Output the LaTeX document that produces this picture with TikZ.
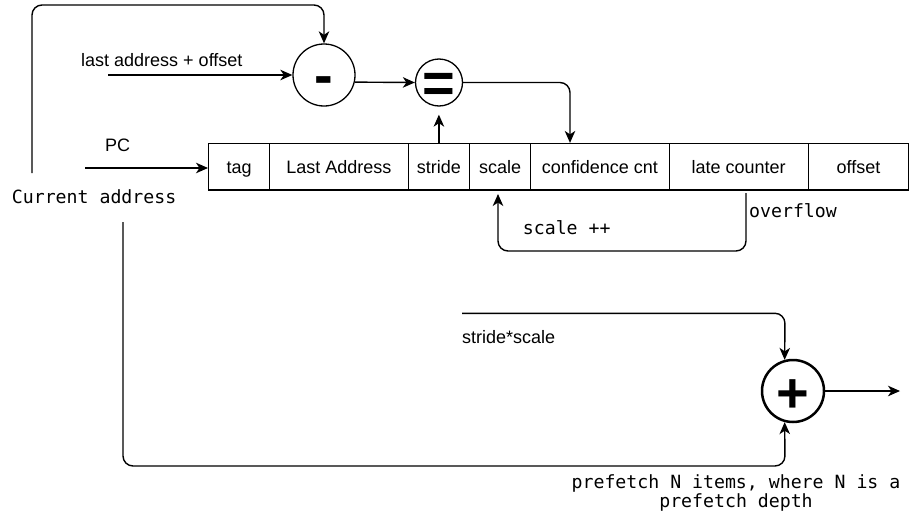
\documentclass[tikz,border=0pt]{standalone}
\usepackage{fontspec}
\setmainfont{Liberation Sans}
\newfontfamily\monofnt{DejaVu Sans Mono}
\usetikzlibrary{arrows.meta}
\begin{document}
\begin{tikzpicture}[x=1pt,y=-1pt,
  lbl/.style={font=\fontsize{18pt}{21.6pt}\selectfont, inner sep=0pt, anchor=base west},
  mono/.style={font=\monofnt\fontsize{18.2pt}{21.6pt}\selectfont, inner sep=0pt, anchor=base west},
  cell/.style={draw, line width=1.3pt, minimum height=46.5pt, inner sep=0pt, anchor=west,
    font=\fontsize{18pt}{21.6pt}\selectfont, text height=13pt, text depth=0pt},
  op/.style={circle, draw, line width=1.3pt, inner sep=0pt,
    font=\bfseries\fontsize{56pt}{56pt}\selectfont, text height=0pt, text depth=0pt},
  conn/.style={line width=1.4pt, -{Stealth[length=12pt,width=10.5pt,inset=3.5pt]}},
]
\useasboundingbox (0,0) rectangle (909,522);

% table cells
\node[cell, minimum width=61pt]    (tag)    at (208,166.8)   {tag};
\node[cell, minimum width=138.5pt] (la)     at (269,166.8)   {Last Address};
\node[cell, minimum width=61.5pt]  (stride) at (407.5,166.8) {stride};
\node[cell, minimum width=61pt]    (scale)  at (469,166.8)   {scale};
\node[cell, minimum width=138.5pt] (conf)   at (530,166.8)   {confidence cnt};
\node[cell, minimum width=139pt]   (late)   at (668.5,166.8) {late counter\hspace{14pt}};
\node[cell, minimum width=100.5pt] (off)    at (807.5,166.8) {offset};

% operators
\node[op, minimum size=62pt] (minus) at (324,75) {\raisebox{\dimexpr-0.255em-5pt\relax}{-}};
\node[op, minimum size=47pt] (eq) at (439,82.5) {\raisebox{\dimexpr-0.36em\relax}{=}};
\node[op, minimum size=62pt, line width=2.5pt] (plus) at (793,391) {\raisebox{\dimexpr-0.36em-1.5pt\relax}{+}};

% labels
\node[mono] (cur) at (11.7,203.3) {Current address};
\node[lbl] (lastlbl) at (81,66) {last address + offset};
\node[lbl] (pclbl) at (105,151) {PC};
\node[mono] (ovflbl) at (749,217.5) {overflow};
\node[mono] (scpp) at (522.7,234) {scale ++};
\node[lbl] (sslbl) at (462,343.5) {stride*scale};
\node[mono, anchor=base, align=center, font=\monofnt\fontsize{18.2pt}{15.3pt}\selectfont] (pf) at (736,507.6)
  {prefetch N items, where N is a\\prefetch depth};

% free ends
\coordinate (toprow) at (0,5);
\coordinate (curtop) at (32,173);
\coordinate (curbot) at (123,222);
\coordinate (lastin) at (108,75);
\coordinate (pcin) at (85,168);
\coordinate (ovf) at (746,193);
\coordinate (scin) at (498,194);
\coordinate (ssin) at (462,313.3);
\coordinate (outp) at (900,391);

% connectors
\draw[conn, rounded corners=10pt] (curtop) |- (minus.north |- toprow) -- (minus.north);
\draw[conn] (lastin) -- (minus.west);
\draw[conn] (pcin) -- (pcin -| tag.west);
\draw[conn] (minus.-13) -- (eq.west);
\draw[conn, shorten >=8pt] (stride.north) -- (stride.north |- eq.south);
\draw[conn, rounded corners=10pt] (eq.east) -| ([xshift=40pt]conf.north west);
\draw[conn, rounded corners=10pt] (ovf) -- (746,251) -- (498,251) -- (scin);
\draw[conn, rounded corners=10pt] (ssin) -- (785,313.3) -- (plus.105);
\draw[conn, rounded corners=10pt] (curbot) -- (123,466) -- (785,466) -- (plus.255);
\draw[conn] (plus.east) -- (outp);
\end{tikzpicture}
\end{document}
